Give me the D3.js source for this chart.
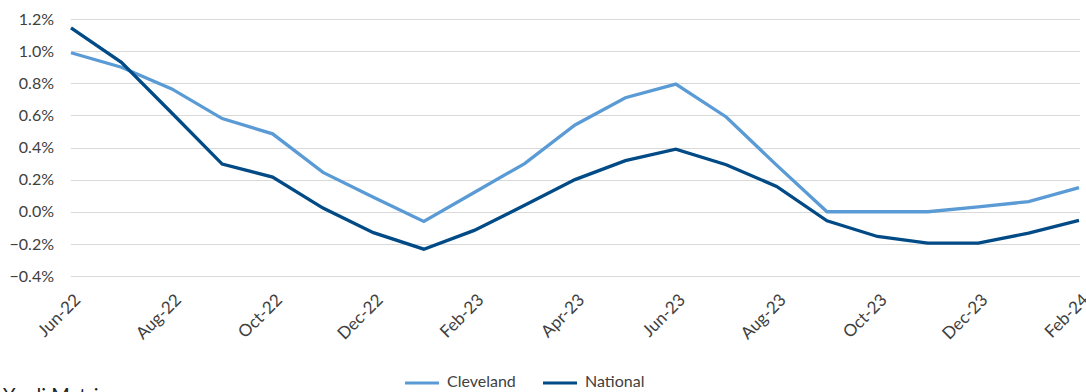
<!DOCTYPE html>
<html>
<head>
<meta charset="utf-8">
<script src="https://cdn.jsdelivr.net/npm/d3@7"></script>
<style>
  html, body { margin: 0; padding: 0; background: #fff; }
  svg { display: block; font-family: Lato, "Open Sans", sans-serif; }
</style>
</head>
<body>
<svg id="chart" width="1086" height="392"></svg>
<script>
// Monthly rent growth, Jun-22 .. Feb-24 (percent)
const months = ["Jun-22","Jul-22","Aug-22","Sep-22","Oct-22","Nov-22","Dec-22",
  "Jan-23","Feb-23","Mar-23","Apr-23","May-23","Jun-23","Jul-23","Aug-23",
  "Sep-23","Oct-23","Nov-23","Dec-23","Jan-24","Feb-24"];
const cleveland = [0.99, 0.90, 0.765, 0.58, 0.485, 0.245, 0.09,
  -0.06, 0.12, 0.30, 0.54, 0.71, 0.795, 0.59, 0.29,
  0.0, 0.0, 0.0, 0.03, 0.063, 0.15];
const national = [1.145, 0.93, 0.615, 0.297, 0.216, 0.023, -0.13,
  -0.233, -0.116, 0.04, 0.20, 0.318, 0.39, 0.293, 0.158,
  -0.056, -0.154, -0.195, -0.195, -0.133, -0.054];
const yTicks = [-0.4, -0.2, 0.0, 0.2, 0.4, 0.6, 0.8, 1.0, 1.2];
const xTickLabels = ["Jun-22","Aug-22","Oct-22","Dec-22","Feb-23","Apr-23",
  "Jun-23","Aug-23","Oct-23","Dec-23","Feb-24"];
const seriesNames = ["Cleveland", "National"];
const seriesColors = ["#5b9bd5", "#004a86"];

const svg = d3.select("#chart");
const textColor = "#404040";

const x = d3.scalePoint().domain(months).range([71, 1079]);
const y = d3.scaleLinear().domain([-0.4, 1.2]).range([276, 19]);

// horizontal gridlines
svg.append("g")
  .selectAll("line")
  .data(yTicks)
  .join("line")
  .attr("x1", 71).attr("x2", 1080)
  .attr("y1", d => Math.round(y(d)) + 0.5)
  .attr("y2", d => Math.round(y(d)) + 0.5)
  .attr("stroke", "#d9d9d9")
  .attr("stroke-width", 1);

// y axis labels
const yAxis = d3.axisLeft(y)
  .tickValues(yTicks)
  .tickSize(0)
  .tickPadding(0)
  .tickFormat(d => d3.format(".1f")(d) + "%");
svg.append("g")
  .attr("transform", "translate(54,0)")
  .call(yAxis)
  .call(g => g.select(".domain").remove())
  .call(g => g.selectAll("text")
    .attr("fill", textColor)
    .attr("font-size", 16)
    .attr("font-family", "Lato, 'Open Sans', sans-serif"));

// x axis labels, rotated
const xAxis = d3.axisBottom(x)
  .tickValues(xTickLabels)
  .tickSize(0)
  .tickPadding(0);
svg.append("g")
  .attr("transform", "translate(0,284)")
  .call(xAxis)
  .call(g => g.select(".domain").remove())
  .call(g => g.selectAll("text")
    .attr("fill", textColor)
    .attr("font-size", 17)
    .attr("font-family", "Lato, 'Open Sans', sans-serif")
    .attr("text-anchor", "end")
    .attr("x", 0).attr("y", 0)
    .attr("dy", 0)
    .attr("transform", "translate(10,17) rotate(-45)"));

// series lines
const line = d3.line()
  .x((d, i) => x(months[i]))
  .y(d => y(d));

[cleveland, national].forEach((vals, k) => {
  svg.append("path")
    .datum(vals)
    .attr("fill", "none")
    .attr("stroke", seriesColors[k])
    .attr("stroke-width", 3.3)
    .attr("stroke-linejoin", "miter")
    .attr("d", line);
});

// legend
const legendX = [405, 543];
const legend = svg.append("g");
seriesNames.forEach((name, k) => {
  legend.append("line")
    .attr("x1", legendX[k]).attr("x2", legendX[k] + 34)
    .attr("y1", 383).attr("y2", 383)
    .attr("stroke", seriesColors[k])
    .attr("stroke-width", 3.2);
  legend.append("text")
    .attr("x", legendX[k] + 42)
    .attr("y", 387)
    .attr("fill", textColor)
    .attr("font-size", 16)
    .text(name);
});

// source line
svg.append("text")
  .attr("x", 3)
  .attr("y", 402)
  .attr("fill", "#222")
  .attr("font-size", 20)
  .text("Yardi Matrix");
</script>
</body>
</html>
